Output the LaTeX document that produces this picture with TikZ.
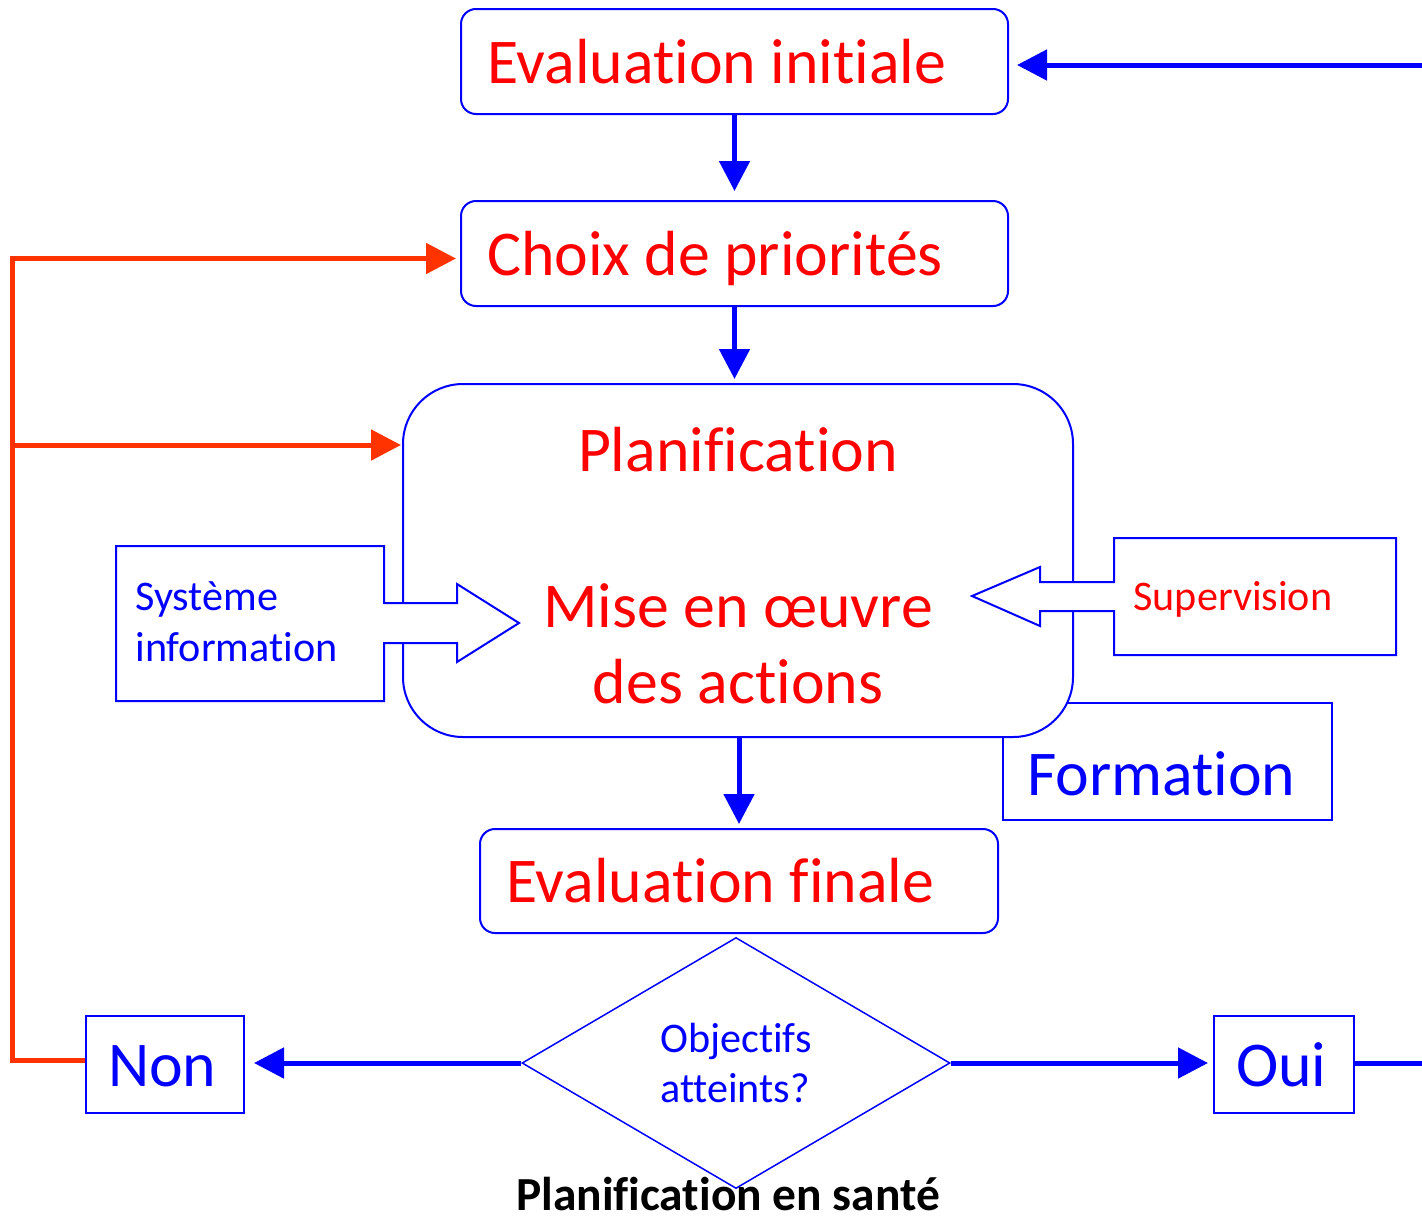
\documentclass[tikz,border=0pt]{standalone}
\usepackage{fontspec}
\setmainfont{Carlito}[Ligatures=NoCommon]
\usepackage{tikz}
\usetikzlibrary{arrows.meta,shapes.geometric}
\definecolor{bleu}{RGB}{0,0,255}
\definecolor{rouge}{RGB}{255,0,0}
\definecolor{orange}{RGB}{255,51,0}
\newcommand{\grand}{\fontsize{36.3}{43.2}\selectfont}
\newcommand{\petit}{\fontsize{24}{29}\selectfont}

\begin{document}
\begin{tikzpicture}[
  rbox/.style={draw=bleu,line width=0.04cm,rounded corners=0.3cm,text=rouge,font=\grand,align=left,inner xsep=0.52cm,inner ysep=0pt,text height=31.5pt,text depth=7pt,execute at begin node={\spaceskip=0pt\xspaceskip=0pt}},
  bbox/.style={draw=bleu,line width=0.04cm,text=bleu,font=\grand,align=left,inner xsep=0.44cm,inner ysep=0pt,minimum height=1.94cm,text height=31.5pt,text depth=7pt},
  callout/.style={draw=bleu,line width=0.04cm,fill=white},
  fleche/.style={draw=bleu,line width=0.1cm,-{Triangle[length=0.6cm,width=0.6cm]}},
  retour/.style={draw=orange,line width=0.1cm,-{Triangle[length=0.6cm,width=0.6cm]}}
]
\useasboundingbox (0,0) rectangle (28.44,-24.36);
\node[draw=bleu,line width=0.04cm,text=bleu,font=\grand,align=left,inner xsep=0.48cm,inner ysep=0pt,text width=5.62cm,minimum height=2.34cm,text height=40pt,text depth=1.3pt] (form) at (23.35,-15.23) {Formation};
\node[draw=bleu,line width=0.04cm,fill=white,rounded corners=1.2cm,minimum width=13.4cm,minimum height=7.06cm] (plan) at (14.76,-11.21) {};
\node[text=rouge,font=\grand,anchor=base] (plantitle) at (14.76,-9.434) {Planification};
\node[text=rouge,font=\grand,align=center] (planact) at (14.76,-12.88) {Mise en œuvre\\des actions};
\draw[callout] (2.32,-10.92) -- (7.68,-10.92) -- (7.68,-12.06) -- (9.14,-12.06) -- (9.14,-11.68) -- (10.38,-12.46) -- (9.14,-13.24) -- (9.14,-12.86) -- (7.68,-12.86) -- (7.68,-14.02) -- (2.32,-14.02) -- cycle;
\node[text=bleu,font=\petit,align=left,anchor=west,inner sep=0pt] (sysinfo) at (2.7,-12.44) {Système\\information};
\draw[callout] (22.28,-10.76) -- (27.92,-10.76) -- (27.92,-13.1) -- (22.28,-13.1) -- (22.28,-12.22) -- (20.8,-12.22) -- (20.8,-12.52) -- (19.44,-11.92) -- (20.8,-11.34) -- (20.8,-11.64) -- (22.28,-11.64) -- cycle;
\node[text=rouge,font=\petit,anchor=base west,inner sep=0pt] (superv) at (22.66,-12.2) {Supervision};
\node[rbox,text width=9.9cm,minimum height=2.1cm] (ei) at (14.69,-1.23) {Evaluation initiale};
\node[rbox,text width=9.9cm,minimum height=2.1cm] (choix) at (14.69,-5.07) {Choix de priorités};
\node[rbox,text width=9.32cm,minimum height=2.08cm] (ef) at (14.78,-17.62) {Evaluation finale};
\node[diamond,draw=bleu,line width=0.03cm,text=bleu,font=\petit,align=left,inner sep=0pt,minimum width=8.56cm,minimum height=5.02cm] (dia) at (14.72,-21.26) {Objectifs\\atteints?};
\node[bbox,text width=2.28cm] (non) at (3.3,-21.29) {Non};
\node[bbox,text width=1.92cm] (oui) at (25.68,-21.29) {Oui};
\node[font=\fontsize{27}{32}\selectfont\bfseries,anchor=base,inner sep=0pt] (titre) at (14.56,-24.2) {Planification en santé};
\coordinate (inr) at (28.44,-1.3);
\coordinate (outr) at (28.44,-21.26);
\coordinate (loop) at (0.24,0);
\coordinate (planin) at (8.06,-8.9);
\coordinate (nonout) at ([yshift=0.09cm]non.west);
\coordinate (choixin) at ([yshift=-0.1cm]choix.west);
\draw[fleche,shorten >=0.16cm] (inr) -- (inr -| ei.east);
\draw[fleche,shorten >=0.18cm] (ei.south) -- (choix.north);
\draw[fleche,shorten >=0.08cm] (choix.south) -- (choix.south |- plan.north);
\draw[fleche,shorten >=0.08cm] (ef.north |- plan.south) -- (ef.north);
\draw[fleche,shorten >=0.18cm] (dia.west) -- (dia.west -| non.east);
\draw[fleche,shorten >=0.1cm] (dia.east) -- (dia.east -| oui.west);
\draw[draw=bleu,line width=0.1cm] (oui.east |- outr) -- (outr);
\draw[retour,shorten >=0.08cm] (nonout) -- (loop |- nonout) -- (loop |- choixin) -- (choixin);
\draw[retour,shorten >=0.04cm] (loop |- planin) -- (planin);
\end{tikzpicture}
\end{document}
